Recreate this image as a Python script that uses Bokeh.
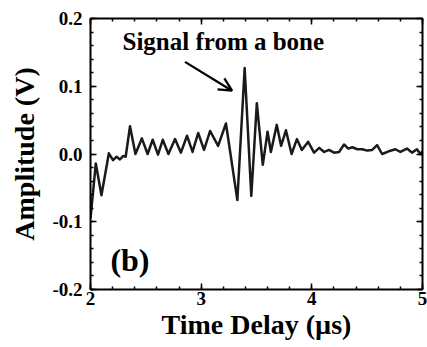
from bokeh.plotting import figure
from bokeh.models import (Label, Arrow, OpenHead, LinearAxis, SingleIntervalTicker,
                          NumeralTickFormatter, Range1d, CustomLabelingPolicy)
from bokeh.embed import file_html
from bokeh.resources import INLINE

# ---- data ----
time_us = [2.0, 2.048, 2.099, 2.166, 2.203, 2.236, 2.266, 2.295, 2.318, 2.357,
           2.406, 2.464, 2.516, 2.562, 2.61, 2.653, 2.704, 2.764, 2.817, 2.872,
           2.922, 2.973, 3.026, 3.081, 3.153, 3.224, 3.327, 3.393, 3.453, 3.503,
           3.557, 3.6, 3.63, 3.683, 3.722, 3.766, 3.817, 3.865, 3.91, 3.967,
           4.02, 4.067, 4.111, 4.156, 4.2, 4.246, 4.291, 4.33, 4.366, 4.411,
           4.456, 4.5, 4.545, 4.59, 4.635, 4.695, 4.756, 4.8, 4.86, 4.905,
           4.95, 4.98, 5.0]
amplitude_v = [-0.095, -0.014, -0.061, 0.001, -0.009, -0.004, -0.008, -0.003, -0.004, 0.041,
               0.0, 0.023, 0.0, 0.021, -0.001, 0.021, 0.0, 0.022, 0.002, 0.027,
               0.003, 0.031, 0.006, 0.034, 0.012, 0.045, -0.068, 0.127, -0.062, 0.075,
               -0.016, 0.033, 0.003, 0.043, 0.012, 0.035, 0.0, 0.022, 0.006, 0.018,
               0.002, 0.009, 0.003, 0.006, 0.002, 0.003, 0.014, 0.008, 0.010, 0.007,
               0.007, 0.005, 0.006, 0.013, 0.0, 0.004, 0.007, 0.003, 0.008, 0.002,
               0.007, 0.0, 0.004]

x_ticks_interval = 1
y_ticks_interval = 0.1
annotation_text = "Signal from a bone"
panel_text = "(b)"
x_label = "Time Delay (\u00b5s)"
y_label = "Amplitude (V)"

FONT = "Liberation Serif"

p = figure(width=427, height=347, output_backend="svg", toolbar_location=None,
           x_range=Range1d(2, 5), y_range=Range1d(-0.2, 0.2),
           min_border_left=90, min_border_right=0, min_border_top=18,
           min_border_bottom=58,
           background_fill_color="white", border_fill_color="white")
p.grid.visible = False
p.outline_line_color = None

bottom = p.below[0]
left = p.left[0]
bottom.axis_label = x_label
left.axis_label = y_label
bottom.ticker = SingleIntervalTicker(interval=x_ticks_interval, num_minor_ticks=5)
left.ticker = SingleIntervalTicker(interval=y_ticks_interval, num_minor_ticks=5)
bottom.formatter = NumeralTickFormatter(format="0")
left.formatter = NumeralTickFormatter(format="0.0")

top = LinearAxis(ticker=SingleIntervalTicker(interval=x_ticks_interval, num_minor_ticks=5))
right = LinearAxis(ticker=SingleIntervalTicker(interval=y_ticks_interval, num_minor_ticks=5))
p.add_layout(top, "above")
p.add_layout(right, "right")

for ax in [bottom, left, top, right]:
    ax.axis_line_width = 2
    ax.axis_line_color = "black"
    ax.major_tick_in = 6
    ax.major_tick_out = 0
    ax.minor_tick_in = 3
    ax.minor_tick_out = 0
    ax.major_tick_line_width = 1.5
    ax.minor_tick_line_width = 1.5
    ax.major_tick_line_color = "black"
    ax.minor_tick_line_color = "black"
    ax.major_label_text_font = FONT
    ax.major_label_text_font_style = "bold"
    ax.major_label_text_font_size = "19px"
    ax.major_label_text_color = "black"
    ax.axis_label_text_font = FONT
    ax.axis_label_text_font_style = "bold"
    ax.axis_label_text_font_size = "28px"
    ax.axis_label_text_color = "black"

for ax in [top, right]:
    ax.major_label_policy = CustomLabelingPolicy(code="return []")
    ax.major_label_text_font_size = "1px"
    ax.major_label_standoff = 0

bottom.major_label_standoff = 2
bottom.axis_label_standoff = 1
left.major_label_standoff = 8
left.axis_label_standoff = 9

p.line(time_us, amplitude_v, line_color="#1a1a1a", line_width=2.5, line_join="round")

p.add_layout(Label(x=3.2, y=0.146, text=annotation_text, text_align="center",
                   text_font=FONT, text_font_style="bold", text_font_size="25px",
                   text_color="black"))
p.add_layout(Label(x=2.18, y=-0.183, text=panel_text, text_align="left",
                   text_font=FONT, text_font_style="bold", text_font_size="32px",
                   text_color="black"))
p.add_layout(Arrow(end=OpenHead(size=13, line_width=2.3, line_color="black"),
                   x_start=2.854, y_start=0.136, x_end=3.279, y_end=0.0935,
                   line_width=2.3, line_color="black"))

open("out.html", "w").write(file_html(p, INLINE))
